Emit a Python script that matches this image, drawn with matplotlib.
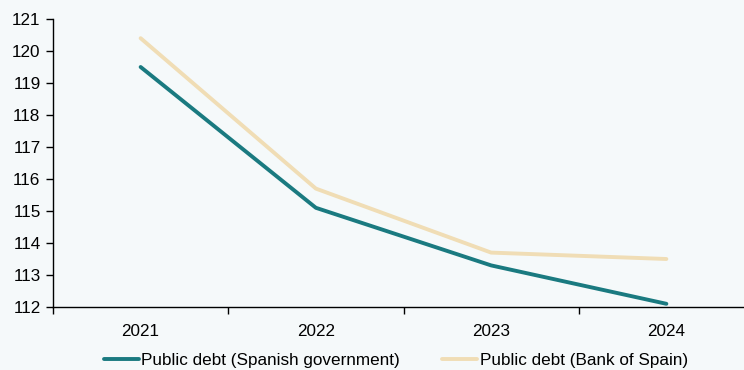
import matplotlib
matplotlib.use("Agg")
import matplotlib.pyplot as plt

years = ["2021", "2022", "2023", "2024"]
gov = [119.5, 115.1, 113.3, 112.1]
bde = [120.4, 115.7, 113.7, 113.5]
labels = ["Public debt (Spanish government)", "Public debt (Bank of Spain)"]

plt.rcParams['font.family'] = ['Liberation Sans', 'DejaVu Sans']
bg = '#F5F9FA'
fig = plt.figure(figsize=(7.44, 3.70), dpi=100, facecolor=bg)
ax = fig.add_axes([53/744, 1-307/370, (754-53)/744, (307-19)/370])
ax.set_facecolor(bg)
x = list(range(len(years)))
l1, = ax.plot(x, gov, color='#1A7A80', lw=2.8, label=labels[0], solid_capstyle='round')
l2, = ax.plot(x, bde, color='#F0DDB5', lw=2.8, label=labels[1], solid_capstyle='round')
ax.set_xlim(-0.5, len(years)-0.5)
ax.set_ylim(112, 121)
ax.set_yticks(range(112, 122))
ax.set_xticks(x)
ax.set_xticklabels(years)
ax.set_xticks([i-0.5 for i in range(len(years)+1)], minor=True)
ax.tick_params(axis='x', which='major', length=0, pad=12, labelsize=12.3)
ax.tick_params(axis='x', which='minor', length=5, width=1, direction='out')
ax.tick_params(axis='y', length=5, width=1, direction='out', labelsize=12.3, pad=4)
for s in ['top', 'right']:
    ax.spines[s].set_visible(False)
for s in ['left', 'bottom']:
    ax.spines[s].set_linewidth(1)
    ax.spines[s].set_color('#000000')
fig.legend(handles=[l1, l2], loc='center', bbox_to_anchor=(0.532, 0.027), ncol=2,
           frameon=False, fontsize=12.3, handlelength=2.05, handletextpad=0.12,
           columnspacing=2.5)
fig.savefig("out.png", dpi=100, facecolor=bg)
